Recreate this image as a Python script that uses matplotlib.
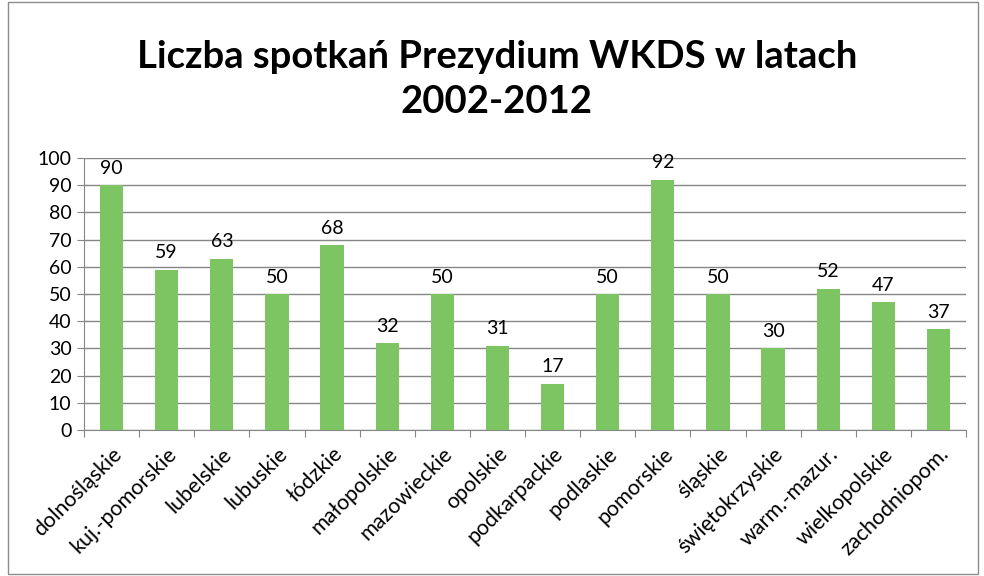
import matplotlib.pyplot as plt
import numpy as np
from matplotlib.patches import Rectangle

regions = ['dolnośląskie', 'kuj.-pomorskie', 'lubelskie', 'lubuskie', 'łódzkie',
           'małopolskie', 'mazowieckie', 'opolskie', 'podkarpackie', 'podlaskie',
           'pomorskie', 'śląskie', 'świętokrzyskie', 'warm.-mazur.', 'wielkopolskie',
           'zachodniopom.']
meetings = [90, 59, 63, 50, 68, 32, 50, 31, 17, 50, 92, 50, 30, 52, 47, 37]

plt.rcParams['font.family'] = ['Lato', 'DejaVu Sans']
grid_col = '#868686'

fig = plt.figure(figsize=(9.84, 5.76), dpi=100)
ax = fig.add_axes([84 / 984, 1 - 430 / 576, 882 / 984, 272 / 576])

# chart frame
fig.patches.append(Rectangle((8 / 984, 2 / 576), 970 / 984, 572 / 576,
                             transform=fig.transFigure, fill=False,
                             edgecolor='#8c8c8c', linewidth=1))

x = np.arange(len(regions))
ax.bar(x, meetings, width=0.42, color='#7dc462', zorder=3)
for xi, v in zip(x, meetings):
    ax.annotate(str(v), (xi, v), xytext=(0, 6), textcoords='offset points',
                ha='center', va='bottom', fontsize=14)

ax.set_xlim(-0.5, len(regions) - 0.5)
ax.set_ylim(0, 100)
ax.set_yticks(range(0, 101, 10))
ax.yaxis.grid(True, color=grid_col, linewidth=1)
ax.set_axisbelow(True)

ax.set_xticks(np.arange(len(regions) + 1) - 0.5)
ax.set_xticklabels([])
ax.set_xticks(x, minor=True)
ax.set_xticklabels(regions, minor=True, rotation=45, ha='right',
                   rotation_mode='anchor', fontsize=15.5)
ax.tick_params(axis='x', which='minor', length=0, pad=10)
ax.tick_params(axis='x', which='major', length=5, color=grid_col)
ax.tick_params(axis='y', length=5, color=grid_col, labelsize=14, pad=4)

for s in ['top', 'right']:
    ax.spines[s].set_visible(False)
for s in ['left', 'bottom']:
    ax.spines[s].set_color(grid_col)

fig.text(0.505, 0.862, 'Liczba spotkań Prezydium WKDS w latach\n2002-2012',
         ha='center', va='center', fontsize=27.5, fontweight='bold', linespacing=1.42)

fig.savefig('out.png', dpi=100)
